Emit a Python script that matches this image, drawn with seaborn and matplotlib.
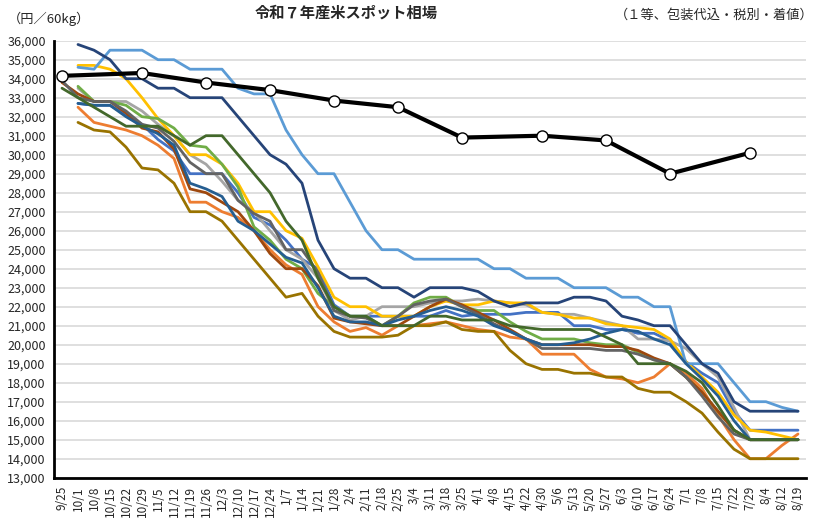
import numpy as np
import pandas as pd
import matplotlib
matplotlib.use("Agg")
import matplotlib.pyplot as plt
import seaborn as sns

nan = np.nan

# 週ごとの日付（カテゴリ軸）
dates = ["9/25", "10/1", "10/8", "10/15", "10/22", "10/29", "11/5", "11/12", "11/19", "11/26",
         "12/3", "12/10", "12/17", "12/24", "1/7", "1/14", "1/21", "1/28", "2/4", "2/11",
         "2/18", "2/25", "3/4", "3/11", "3/18", "3/25", "4/1", "4/8", "4/15", "4/22",
         "4/30", "5/6", "5/13", "5/20", "5/27", "6/3", "6/10", "6/17", "6/24", "7/1",
         "7/8", "7/15", "7/22", "7/29", "8/4", "8/12", "8/19"]

# 各銘柄の相場（円／60kg）
s_blue = [nan, 32700, 32600, 32600, 32100, 31600, 30800, 30200, 29000, 29000, 29000,
          28000, 26700, 26300, 25500, 24500, 24000, 22100, 21500, 21500, 21500, 21500,
          21500, 21500, 21800, 21500, 21600, 21600, 21600, 21700, 21700, 21700, 21000,
          21000, 20800, 20800, 20600, 20600, 20200, 19100, 18500, 18000, 16500, 15500, 15500, 15500, 15500]
s_orange = [nan, 32500, 31700, 31500, 31300, 31000, 30500, 29800, 27500, 27500, 27000,
            26700, 26000, 25000, 24200, 23700, 22000, 21200, 20700, 20900, 20500, 21000,
            21000, 21100, 21200, 21000, 20800, 20700, 20400, 20300, 19500, 19500, 19500,
            18700, 18300, 18200, 18000, 18300, 19000, 18500, 17700, 16300, 15000, 14000, 14000, 14700, 15300]
s_gray = [nan, 33500, 32800, 32800, 32800, 32300, 31600, 31000, 30000, 29500, 28600,
          27600, 27000, 26000, 25000, 24500, 23500, 21800, 21300, 21500, 22000, 22000,
          22000, 22200, 22300, 22300, 22400, 22300, 22200, 22100, 21700, 21600, 21600,
          21400, 21200, 21000, 20300, 20300, 20200, 19800, 19000, 18300, 16700, 15000, 15000, 15000, 15000]
s_yellow = [nan, 34700, 34700, 34500, 34000, 33000, 31900, 31000, 30000, 30000, 29500,
            28500, 27000, 27000, 26000, 25600, 24100, 22500, 22000, 22000, 21500, 21500,
            21500, 22000, 22300, 22100, 22100, 22300, 22200, 22200, 21700, 21600, 21400,
            21400, 21100, 21000, 20900, 20800, 20300, 19100, 18300, 17500, 16300, 15500, 15400, 15200, 15000]
s_lightblue = [nan, 34600, 34500, 35500, 35500, 35500, 35000, 35000, 34500, 34500, 34500,
               33500, 33200, 33200, 31300, 30000, 29000, 29000, 27500, 26000, 25000, 25000,
               24500, 24500, 24500, 24500, 24500, 24000, 24000, 23500, 23500, 23500, 23000,
               23000, 23000, 22500, 22500, 22000, 22000, 19000, 19000, 19000, 18000, 17000, 17000, 16700, 16500]
s_green = [nan, 33600, 32800, 32800, 32600, 32000, 31900, 31400, 30500, 30400, 29500,
           28300, 26200, 25500, 24500, 24000, 22700, 22000, 21500, 21500, 21000, 21500,
           22200, 22500, 22500, 22000, 21800, 21800, 21200, 20700, 20300, 20300, 20300,
           20100, 20000, 20000, 19600, 19200, 19000, 18300, 17500, 16500, 15500, 15000, 15000, 15000, 15000]
s_navy = [nan, 35800, 35500, 35000, 34000, 34000, 33500, 33500, 33000, 33000, 33000,
          32000, 31000, 30000, 29500, 28500, 25500, 24000, 23500, 23500, 23000, 23000,
          22500, 23000, 23000, 23000, 22800, 22300, 22000, 22200, 22200, 22200, 22500,
          22500, 22300, 21500, 21300, 21000, 21000, 20000, 19000, 18500, 17000, 16500, 16500, 16500, 16500]
s_brown = [33800, 33200, 32800, 32800, 32200, 31400, 31200, 30300, 28200, 28000, 27500,
           27000, 26000, 24800, 24000, 24000, 23100, 21400, 21200, 21100, 21000, 21000,
           21500, 22000, 22400, 22100, 21700, 21300, 20800, 20300, 20000, 20000, 20000,
           20000, 19900, 19900, 19700, 19300, 19000, 18300, 17500, 16500, 15500, 15000, 15000, 15000, 15000]
s_darkgray = [33900, 33000, 32800, 32800, 32300, 31600, 31400, 30700, 29600, 29000, 29000,
              27600, 26900, 26500, 25000, 25000, 23800, 21800, 21500, 21400, 21000, 21500,
              22100, 22300, 22400, 22000, 21600, 21100, 20700, 20300, 19800, 19800, 19800,
              19800, 19700, 19700, 19500, 19200, 19000, 18300, 17300, 16200, 15300, 15000, 15000, 15000, 15000]
s_olive = [nan, 31700, 31300, 31200, 30400, 29300, 29200, 28500, 27000, 27000, 26500,
           25500, 24500, 23500, 22500, 22700, 21500, 20700, 20400, 20400, 20400, 20500,
           21000, 21000, 21200, 20800, 20700, 20700, 19700, 19000, 18700, 18700, 18500,
           18500, 18300, 18300, 17700, 17500, 17500, 17000, 16400, 15400, 14500, 14000, 14000, 14000, 14000]
s_steel = [nan, 32700, 32600, 32600, 32000, 31500, 31100, 30500, 28500, 28200, 27800,
           26500, 26000, 25300, 24600, 24300, 23000, 21500, 21200, 21200, 21000, 21300,
           21500, 21800, 22000, 21800, 21500, 21000, 20700, 20300, 20000, 20000, 20100,
           20300, 20600, 20800, 20700, 20300, 20000, 19000, 18200, 17300, 16000, 15000, 15000, 15000, 15000]
s_darkgreen = [33500, 33000, 32500, 32000, 31500, 31500, 31500, 31000, 30500, 31000, 31000,
               30000, 29000, 28000, 26500, 25500, 23500, 22000, 21500, 21500, 21000, 21000,
               21000, 21500, 21500, 21300, 21300, 21300, 21000, 20900, 20800, 20800, 20800,
               20800, 20400, 20000, 19000, 19000, 19000, 18600, 18000, 16800, 15500, 15000, 15000, 15000, 15000]

# 黒線（月ごとの相場）
s_black = [34150, nan, nan, nan, nan, 34300, nan, nan, nan, 33800, nan,
           nan, nan, 33400, nan, nan, nan, 32850, nan, nan, nan, 32500,
           nan, nan, nan, 30900, nan, nan, nan, nan, 31000, nan, nan,
           nan, 30750, nan, nan, nan, 29000, nan, nan, nan, nan, 30100, nan, nan, nan]

names = ["blue", "orange", "gray", "yellow", "lightblue", "green",
         "navy", "brown", "darkgray", "olive", "steel", "darkgreen"]
colors = ["#4472C4", "#ED7D31", "#A5A5A5", "#FFC000", "#5B9BD5", "#70AD47",
          "#264478", "#9E480E", "#636363", "#997300", "#255E91", "#43682B"]
values = [s_blue, s_orange, s_gray, s_yellow, s_lightblue, s_green,
          s_navy, s_brown, s_darkgray, s_olive, s_steel, s_darkgreen]

frames = []
for n, v in zip(names, values):
    frames.append(pd.DataFrame({"idx": np.arange(len(dates)), "price": v, "series": n}))
df = pd.concat(frames).dropna()

df_black = pd.DataFrame({"idx": np.arange(len(dates)), "price": s_black}).dropna()

sns.set_theme(style="white")
plt.rcParams["font.family"] = ["Noto Sans CJK JP", "DejaVu Sans"]

fig = plt.figure(figsize=(8.24, 5.27), dpi=100)
ax = fig.add_axes([54 / 824, 1 - 477.7 / 527, 752 / 824, 437 / 527])

sns.lineplot(data=df, x="idx", y="price", hue="series", hue_order=names,
             palette=dict(zip(names, colors)), linewidth=2.0, estimator=None,
             errorbar=None, legend=False, ax=ax)
sns.lineplot(data=df_black, x="idx", y="price", color="black", linewidth=3.0,
             marker="o", markersize=8, markerfacecolor="white",
             markeredgecolor="black", markeredgewidth=1.0,
             estimator=None, errorbar=None, ax=ax)

ax.set_xlim(-0.5, len(dates) - 0.5)
ax.set_ylim(13000, 36000)
ax.set_yticks(np.arange(13000, 36001, 1000))
ax.set_yticklabels([f"{v:,}" for v in range(13000, 36001, 1000)], fontsize=9)
ax.set_xticks(np.arange(len(dates)))
ax.set_xticklabels(dates, rotation=90, fontsize=8.5)
ax.set_xticks(np.arange(-0.5, len(dates), 1), minor=True)
ax.tick_params(axis="x", which="major", length=0, pad=6)
ax.tick_params(axis="x", which="minor", length=5, width=1.5, direction="out", color="black")
ax.tick_params(axis="y", length=0, pad=6)
ax.set_xlabel("")
ax.set_ylabel("")

ax.yaxis.grid(True, color="#d9d9d9", linewidth=1.2)
ax.set_axisbelow(True)
for side in ["top", "right"]:
    ax.spines[side].set_visible(False)
for side in ["left", "bottom"]:
    ax.spines[side].set_color("black")
    ax.spines[side].set_linewidth(2)

fig.text(346 / 824, 1 - 13 / 527, "令和７年産米スポット相場", ha="center", va="center",
         fontsize=11, fontweight="bold")
fig.text(8 / 824, 1 - 19 / 527, "（円／60kg）", ha="left", va="center", fontsize=9.5)
fig.text(814 / 824, 1 - 15 / 527, "（１等、包装代込・税別・着値）", ha="right", va="center",
         fontsize=9.5)

fig.savefig("out.png", dpi=100)
